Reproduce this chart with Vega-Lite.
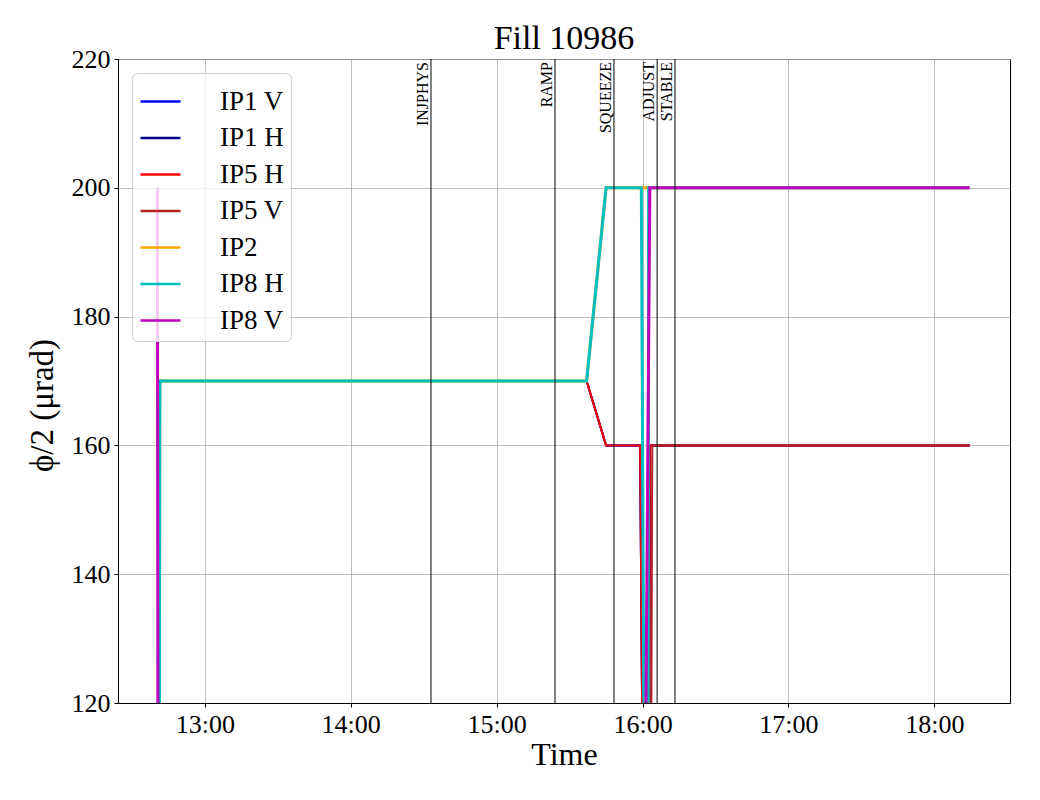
{
  "$schema": "https://vega.github.io/schema/vega-lite/v6.json",
  "autosize": "none",
  "width": 892,
  "height": 644,
  "padding": {"left": 118, "top": 59, "right": 30, "bottom": 97},
  "background": "white",
  "title": {"text": "Fill 10986", "font": "Liberation Serif", "fontSize": 34, "fontWeight": "normal", "color": "black", "offset": -10},
  "datasets": {
    "series": [
      {"t": "2024-01-01T12:41:00", "v": 0, "s": "IP1 V"},
      {"t": "2024-01-01T12:41:30", "v": 170, "s": "IP1 V"},
      {"t": "2024-01-01T15:37:00", "v": 170, "s": "IP1 V"},
      {"t": "2024-01-01T15:45:00", "v": 160, "s": "IP1 V"},
      {"t": "2024-01-01T15:59:00", "v": 160, "s": "IP1 V"},
      {"t": "2024-01-01T16:02:15", "v": 0, "s": "IP1 V"},
      {"t": "2024-01-01T16:03:00", "v": 160, "s": "IP1 V"},
      {"t": "2024-01-01T18:14:30", "v": 160, "s": "IP1 V"},
      {"t": "2024-01-01T12:41:00", "v": 0, "s": "IP1 H"},
      {"t": "2024-01-01T12:41:30", "v": 170, "s": "IP1 H"},
      {"t": "2024-01-01T15:37:00", "v": 170, "s": "IP1 H"},
      {"t": "2024-01-01T15:45:00", "v": 160, "s": "IP1 H"},
      {"t": "2024-01-01T15:59:00", "v": 160, "s": "IP1 H"},
      {"t": "2024-01-01T16:02:15", "v": 0, "s": "IP1 H"},
      {"t": "2024-01-01T16:03:00", "v": 160, "s": "IP1 H"},
      {"t": "2024-01-01T18:14:30", "v": 160, "s": "IP1 H"},
      {"t": "2024-01-01T12:41:00", "v": 0, "s": "IP5 H"},
      {"t": "2024-01-01T12:41:30", "v": 170, "s": "IP5 H"},
      {"t": "2024-01-01T15:37:00", "v": 170, "s": "IP5 H"},
      {"t": "2024-01-01T15:45:00", "v": 160, "s": "IP5 H"},
      {"t": "2024-01-01T15:59:00", "v": 160, "s": "IP5 H"},
      {"t": "2024-01-01T16:02:15", "v": 0, "s": "IP5 H"},
      {"t": "2024-01-01T16:03:00", "v": 160, "s": "IP5 H"},
      {"t": "2024-01-01T18:14:30", "v": 160, "s": "IP5 H"},
      {"t": "2024-01-01T12:41:00", "v": 0, "s": "IP5 V"},
      {"t": "2024-01-01T16:02:30", "v": 0, "s": "IP5 V"},
      {"t": "2024-01-01T16:04:00", "v": 160, "s": "IP5 V"},
      {"t": "2024-01-01T18:14:30", "v": 160, "s": "IP5 V"},
      {"t": "2024-01-01T12:41:00", "v": 0, "s": "IP2"},
      {"t": "2024-01-01T12:41:30", "v": 170, "s": "IP2"},
      {"t": "2024-01-01T15:37:00", "v": 170, "s": "IP2"},
      {"t": "2024-01-01T15:45:00", "v": 200, "s": "IP2"},
      {"t": "2024-01-01T18:14:30", "v": 200, "s": "IP2"},
      {"t": "2024-01-01T12:41:00", "v": 0, "s": "IP8 H"},
      {"t": "2024-01-01T12:41:30", "v": 170, "s": "IP8 H"},
      {"t": "2024-01-01T15:37:00", "v": 170, "s": "IP8 H"},
      {"t": "2024-01-01T15:45:00", "v": 200, "s": "IP8 H"},
      {"t": "2024-01-01T15:59:30", "v": 200, "s": "IP8 H"},
      {"t": "2024-01-01T16:02:00", "v": 0, "s": "IP8 H"},
      {"t": "2024-01-01T16:02:30", "v": 200, "s": "IP8 H"},
      {"t": "2024-01-01T18:14:30", "v": 200, "s": "IP8 H"},
      {"t": "2024-01-01T12:40:30", "v": 200, "s": "IP8 V"},
      {"t": "2024-01-01T12:41:00", "v": 0, "s": "IP8 V"},
      {"t": "2024-01-01T15:59:00", "v": 0, "s": "IP8 V"},
      {"t": "2024-01-01T16:03:00", "v": 200, "s": "IP8 V"},
      {"t": "2024-01-01T18:14:30", "v": 200, "s": "IP8 V"}
    ],
    "events": [
      {"t": "2024-01-01T14:33:00", "name": "INJPHYS"},
      {"t": "2024-01-01T15:24:00", "name": "RAMP"},
      {"t": "2024-01-01T15:48:15", "name": "SQUEEZE"},
      {"t": "2024-01-01T16:06:00", "name": "ADJUST"},
      {"t": "2024-01-01T16:13:20", "name": "STABLE"}
    ]
  },
  "encoding": {
    "x": {
      "field": "t", "type": "temporal",
      "scale": {"domain": [
        {"year": 2024, "month": 1, "date": 1, "hours": 12, "minutes": 24, "seconds": 18},
        {"year": 2024, "month": 1, "date": 1, "hours": 18, "minutes": 31, "seconds": 6}
      ]},
      "axis": {
        "title": "Time", "format": "%H:%M",
        "values": [
          {"year": 2024, "month": 1, "date": 1, "hours": 13},
          {"year": 2024, "month": 1, "date": 1, "hours": 14},
          {"year": 2024, "month": 1, "date": 1, "hours": 15},
          {"year": 2024, "month": 1, "date": 1, "hours": 16},
          {"year": 2024, "month": 1, "date": 1, "hours": 17},
          {"year": 2024, "month": 1, "date": 1, "hours": 18}
        ]
      }
    }
  },
  "layer": [
    {
      "data": {"name": "series"},
      "transform": [{"filter": {"field": "s", "oneOf": ["IP1 V", "IP1 H", "IP5 H", "IP5 V"]}}],
      "mark": {"type": "line", "clip": true, "strokeWidth": 2},
      "encoding": {
        "y": {
          "field": "v", "type": "quantitative",
          "scale": {"domain": [120, 220], "nice": false, "zero": false},
          "axis": {"title": "ϕ/2 (μrad)", "values": [120, 140, 160, 180, 200, 220], "titleY": 346}
        },
        "color": {
          "field": "s", "type": "nominal",
          "scale": {
            "domain": ["IP1 V", "IP1 H", "IP5 H", "IP5 V", "IP2", "IP8 H", "IP8 V"],
            "range": ["#0000ff", "#00008b", "#ff0000", "#b22222", "#ffa500", "#00bfbf", "#bf00bf"]
          },
          "legend": {
            "title": null, "orient": "top-left", "offset": 14,
            "symbolType": "stroke", "symbolSize": 1600, "symbolStrokeWidth": 2.5,
            "labelFont": "Liberation Serif", "labelFontSize": 27, "labelColor": "black",
            "labelOffset": 38, "rowPadding": 1.5, "padding": 7,
            "fillColor": "rgba(255,255,255,0.8)", "strokeColor": "#cccccc", "cornerRadius": 5
          }
        }
      }
    },
    {
      "data": {"name": "series"},
      "transform": [{"filter": {"field": "s", "oneOf": ["IP2", "IP8 H", "IP8 V"]}}],
      "mark": {"type": "line", "clip": true, "strokeWidth": 3},
      "encoding": {
        "y": {"field": "v", "type": "quantitative"},
        "color": {"field": "s", "type": "nominal"}
      }
    },
    {
      "data": {"name": "events"},
      "mark": {"type": "rule", "color": "black", "strokeWidth": 1},
      "encoding": {}
    },
    {
      "data": {"name": "events"},
      "mark": {"type": "text", "angle": 270, "align": "right", "baseline": "bottom", "font": "Liberation Serif", "fontSize": 16, "color": "black", "dx": -3},
      "encoding": {
        "y": {"datum": 220},
        "text": {"field": "name"}
      }
    }
  ],
  "config": {
    "view": {"stroke": "black", "strokeWidth": 1},
    "axis": {
      "labelFont": "Liberation Serif", "labelFontSize": 26, "labelColor": "black",
      "titleFont": "Liberation Serif", "titleFontWeight": "normal", "titleColor": "black",
      "domainColor": "black", "tickColor": "black", "tickSize": 4,
      "gridColor": "#b0b0b0", "gridWidth": 0.8, "gridOpacity": 1, "labelPadding": 4
    },
    "axisX": {"titleFontSize": 32, "titlePadding": 2},
    "axisY": {"titleFontSize": 33, "titlePadding": 12}
  }
}
